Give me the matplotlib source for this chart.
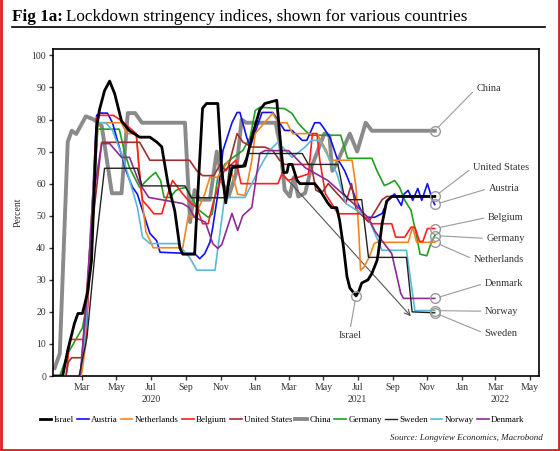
import matplotlib
matplotlib.use('Agg')
import matplotlib.pyplot as plt
import matplotlib.dates as mdates
from matplotlib.lines import Line2D
import pandas as pd

plt.rcParams['font.family'] = ['Liberation Serif', 'DejaVu Serif']

# stringency index, (date, value)
israel = [('2020-01-13', 0), ('2020-01-27', 0), ('2020-02-05', 8), ('2020-02-17', 16.5), ('2020-02-23', 19.5),
          ('2020-03-02', 19.5), ('2020-03-11', 26), ('2020-03-18', 36), ('2020-03-27', 77.5), ('2020-04-01', 83),
          ('2020-04-10', 89), ('2020-04-19', 92), ('2020-04-28', 88), ('2020-05-10', 79.5), ('2020-05-24', 76.5),
          ('2020-06-11', 74.5), ('2020-06-29', 74.5), ('2020-07-11', 73), ('2020-07-20', 71.5), ('2020-07-31', 60),
          ('2020-08-12', 51.5), ('2020-08-21', 40), ('2020-08-26', 38), ('2020-09-16', 38), ('2020-09-20', 51.5),
          ('2020-09-30', 83.5), ('2020-10-07', 85), ('2020-10-27', 85), ('2020-11-03', 64), ('2020-11-10', 54),
          ('2020-11-14', 59), ('2020-11-21', 65), ('2020-12-14', 65.5), ('2020-12-26', 74.5), ('2021-01-09', 83),
          ('2021-01-18', 85), ('2021-02-08', 86), ('2021-02-17', 68), ('2021-02-20', 63.5), ('2021-02-26', 63.5),
          ('2021-03-01', 66), ('2021-03-07', 66), ('2021-03-16', 61), ('2021-03-21', 60), ('2021-04-16', 60),
          ('2021-04-25', 58), ('2021-05-09', 54), ('2021-05-16', 52.5), ('2021-05-25', 52.5), ('2021-05-30', 48.5),
          ('2021-06-06', 40), ('2021-06-12', 31), ('2021-06-17', 27.5), ('2021-06-28', 25), ('2021-07-03', 26.5),
          ('2021-07-08', 29), ('2021-07-19', 30), ('2021-07-26', 32), ('2021-08-04', 36), ('2021-08-06', 38),
          ('2021-08-13', 47.5), ('2021-08-21', 54.5), ('2021-08-30', 56), ('2021-11-14', 56)]

austria = [('2020-01-13', 0), ('2020-02-27', 0), ('2020-03-10', 19), ('2020-03-17', 45), ('2020-03-27', 81.3),
           ('2020-04-01', 82), ('2020-04-15', 82), ('2020-04-24', 79), ('2020-05-06', 71.4), ('2020-05-18', 64),
           ('2020-05-29', 59), ('2020-06-07', 56.7), ('2020-06-16', 51.7), ('2020-06-29', 44.5), ('2020-07-11', 42.2),
           ('2020-07-17', 38.6), ('2020-08-26', 38.3), ('2020-09-16', 38.2), ('2020-09-25', 36.6), ('2020-10-04', 38.2),
           ('2020-10-13', 41.7), ('2020-10-18', 46.3), ('2020-10-27', 56.8), ('2020-11-05', 70.3), ('2020-11-21', 79),
           ('2020-11-30', 82.2), ('2020-12-05', 82.2), ('2020-12-17', 74.4), ('2020-12-23', 71.4), ('2021-01-04', 77.6),
           ('2021-01-13', 82.2), ('2021-02-01', 82.2), ('2021-02-22', 76.6), ('2021-03-07', 76.6), ('2021-03-25', 73.5),
           ('2021-04-02', 73.5), ('2021-04-16', 79), ('2021-04-25', 79), ('2021-05-01', 77.6), ('2021-05-13', 74.4),
           ('2021-05-25', 68.2), ('2021-06-08', 64), ('2021-06-20', 58.8), ('2021-07-01', 53.8), ('2021-07-13', 49.5),
           ('2021-07-31', 49.5), ('2021-08-13', 50.7), ('2021-08-23', 54.8), ('2021-09-04', 56.8), ('2021-09-16', 53.2),
           ('2021-09-21', 56.8), ('2021-09-28', 57.9), ('2021-10-06', 54.8), ('2021-10-15', 58.5), ('2021-10-22', 54.8),
           ('2021-11-01', 60), ('2021-11-10', 54.8), ('2021-11-14', 53.5)]

netherlands = [('2020-01-13', 0), ('2020-02-29', 0), ('2020-03-08', 10), ('2020-03-16', 45), ('2020-03-29', 77.6),
               ('2020-04-02', 79), ('2020-05-10', 79), ('2020-05-19', 75.6), ('2020-06-05', 75.6), ('2020-06-12', 60),
               ('2020-06-22', 45), ('2020-07-05', 40), ('2020-08-26', 40), ('2020-09-05', 50), ('2020-09-16', 49.5),
               ('2020-10-04', 56.8), ('2020-10-13', 62), ('2020-10-27', 62), ('2020-11-14', 67), ('2020-11-23', 62),
               ('2020-12-01', 56.7), ('2020-12-14', 56.3), ('2020-12-26', 67.3), ('2021-01-01', 75.6), ('2021-02-01', 82),
               ('2021-02-10', 79), ('2021-02-26', 79), ('2021-03-08', 75.6), ('2021-04-20', 75.6), ('2021-05-07', 70.3),
               ('2021-05-12', 67.3), ('2021-06-21', 67.3), ('2021-06-28', 58.8), ('2021-07-03', 44.4), ('2021-07-06', 33),
               ('2021-07-12', 34), ('2021-07-21', 37), ('2021-07-30', 41.3), ('2021-08-04', 41.7), ('2021-09-28', 41.7),
               ('2021-10-06', 46.4), ('2021-10-13', 41.7), ('2021-11-14', 41.7)]

belgium = [('2020-01-13', 0), ('2020-02-02', 0), ('2020-02-09', 11.4), ('2020-03-08', 11.4), ('2020-03-18', 45),
           ('2020-03-27', 80.6), ('2020-04-01', 81.3), ('2020-04-26', 81.3), ('2020-05-10', 79.6), ('2020-06-05', 75.6),
           ('2020-06-10', 65), ('2020-06-16', 54.8), ('2020-06-27', 52.6), ('2020-07-06', 50.6), ('2020-07-20', 50.6),
           ('2020-07-27', 54.8), ('2020-08-08', 61), ('2020-08-26', 56.8), ('2020-09-10', 53.8), ('2020-09-20', 52.6),
           ('2020-09-30', 47.5), ('2020-10-10', 47.5), ('2020-10-20', 55), ('2020-11-07', 64), ('2020-11-28', 67.3),
           ('2020-12-07', 60), ('2021-02-10', 60), ('2021-02-17', 63), ('2021-02-28', 61), ('2021-04-05', 63),
           ('2021-04-12', 75.6), ('2021-04-20', 75.6), ('2021-04-25', 67.3), ('2021-05-05', 56.8), ('2021-05-16', 53.8),
           ('2021-05-27', 50.6), ('2021-07-08', 50.6), ('2021-07-26', 47.5), ('2021-08-30', 47.5), ('2021-09-06', 43.3),
           ('2021-09-22', 43.3), ('2021-10-03', 46.4), ('2021-10-10', 46.4), ('2021-10-18', 42), ('2021-10-24', 42),
           ('2021-11-01', 46), ('2021-11-14', 46)]

united_states = [('2020-01-13', 0), ('2020-02-02', 0), ('2020-02-06', 4.3), ('2020-02-12', 5.7), ('2020-03-01', 5.7),
                 ('2020-03-15', 40), ('2020-04-05', 72.9), ('2020-06-11', 72.9), ('2020-06-29', 67.3), ('2020-09-07', 67.3),
                 ('2020-09-20', 64), ('2020-09-30', 62.5), ('2020-10-20', 62.5), ('2020-10-31', 66), ('2020-11-10', 64),
                 ('2020-11-14', 65), ('2020-11-30', 75.6), ('2020-12-10', 73), ('2020-12-26', 71.4), ('2021-01-18', 71.4),
                 ('2021-02-01', 70.3), ('2021-02-13', 67.3), ('2021-02-22', 66), ('2021-04-10', 66), ('2021-04-18', 58),
                 ('2021-04-28', 57), ('2021-05-10', 60), ('2021-05-20', 58), ('2021-06-10', 54), ('2021-06-20', 60),
                 ('2021-06-28', 52), ('2021-07-20', 48), ('2021-08-13', 55), ('2021-08-21', 56), ('2021-11-14', 56)]

china = [('2020-01-13', 2.5), ('2020-01-22', 7), ('2020-02-05', 73), ('2020-02-12', 76.5), ('2020-02-20', 75.5),
         ('2020-03-08', 81), ('2020-03-22', 80), ('2020-04-05', 78), ('2020-04-23', 57), ('2020-05-10', 57),
         ('2020-05-21', 82), ('2020-06-03', 82), ('2020-06-15', 79), ('2020-08-30', 79), ('2020-09-08', 48),
         ('2020-09-16', 58), ('2020-09-25', 55), ('2020-10-13', 55), ('2020-10-25', 70), ('2020-11-05', 60),
         ('2020-11-15', 56), ('2020-11-28', 63), ('2020-12-08', 80), ('2020-12-16', 79), ('2021-02-06', 79),
         ('2021-02-14', 72), ('2021-02-22', 58), ('2021-03-03', 56), ('2021-03-10', 62), ('2021-03-18', 56),
         ('2021-03-30', 57), ('2021-04-10', 65), ('2021-05-03', 75.6), ('2021-05-12', 75), ('2021-05-17', 64),
         ('2021-05-24', 66), ('2021-06-17', 75.6), ('2021-06-30', 70), ('2021-07-15', 79), ('2021-07-26', 76.5),
         ('2021-11-14', 76.5)]

germany = [('2020-01-13', 0), ('2020-01-22', 0), ('2020-02-05', 7), ('2020-03-02', 15), ('2020-03-11', 23.5),
           ('2020-03-18', 45), ('2020-03-29', 77), ('2020-05-06', 77), ('2020-05-15', 70), ('2020-05-24', 65),
           ('2020-06-11', 58.8), ('2020-06-29', 62), ('2020-07-09', 63.5), ('2020-07-18', 61), ('2020-07-24', 55.7),
           ('2020-08-04', 55.7), ('2020-08-14', 57.9), ('2020-08-23', 58.5), ('2020-09-01', 58.8), ('2020-09-11', 55.7),
           ('2020-09-22', 52), ('2020-10-10', 49.5), ('2020-10-17', 50.5), ('2020-10-27', 62), ('2020-11-08', 66),
           ('2020-11-23', 68.2), ('2020-12-10', 70.3), ('2020-12-23', 74.4), ('2021-01-01', 82.8), ('2021-01-09', 83.8),
           ('2021-02-22', 83.4), ('2021-03-07', 81.9), ('2021-03-18', 78.8), ('2021-03-30', 76.6), ('2021-04-08', 75.1),
           ('2021-06-01', 75.1), ('2021-06-13', 67.9), ('2021-07-26', 67.9), ('2021-08-04', 64), ('2021-08-17', 59.4),
           ('2021-08-25', 60), ('2021-09-04', 61), ('2021-09-13', 58.8), ('2021-09-22', 54.8), ('2021-10-03', 51.7),
           ('2021-10-12', 44.4), ('2021-10-19', 38), ('2021-10-31', 37.5), ('2021-11-07', 41.3), ('2021-11-14', 43.8)]

sweden = [('2020-01-13', 0), ('2020-02-25', 0), ('2020-03-10', 12), ('2020-03-25', 40), ('2020-04-10', 64.8),
          ('2020-06-07', 64.8), ('2020-06-15', 59.3), ('2020-08-30', 59.3), ('2020-09-10', 55.6), ('2020-11-10', 55.6),
          ('2020-11-17', 65.7), ('2020-12-10', 65.7), ('2020-12-20', 69.4), ('2021-03-25', 69.4), ('2021-04-05', 66),
          ('2021-05-27', 66), ('2021-06-06', 57), ('2021-06-15', 55), ('2021-07-08', 55), ('2021-07-20', 37),
          ('2021-09-25', 37), ('2021-10-05', 20), ('2021-11-14', 19.7)]

norway = [('2020-01-13', 0), ('2020-02-27', 0), ('2020-03-08', 15), ('2020-03-17', 45), ('2020-03-29', 79),
          ('2020-04-12', 79), ('2020-04-24', 76.6), ('2020-05-14', 67.3), ('2020-06-07', 52.6), ('2020-06-16', 43.3),
          ('2020-06-29', 41.3), ('2020-08-17', 41.3), ('2020-09-07', 37), ('2020-09-20', 33), ('2020-10-22', 33),
          ('2020-11-08', 55.7), ('2020-12-14', 55.7), ('2021-01-09', 65), ('2021-01-26', 70.3), ('2021-02-10', 72.9),
          ('2021-03-07', 68.2), ('2021-03-30', 71.4), ('2021-04-10', 73.5), ('2021-04-25', 73.5), ('2021-05-25', 63.2),
          ('2021-06-10', 53.8), ('2021-07-19', 49.5), ('2021-08-13', 39.2), ('2021-09-25', 39.2), ('2021-10-10', 20.4),
          ('2021-11-14', 20.4)]

denmark = [('2020-01-13', 0), ('2020-02-27', 0), ('2020-03-10', 25), ('2020-03-20', 55), ('2020-04-05', 72.5),
           ('2020-04-19', 72.5), ('2020-05-10', 68.2), ('2020-05-24', 68.2), ('2020-06-11', 60), ('2020-06-27', 55.7),
           ('2020-08-26', 53.8), ('2020-09-06', 52.6), ('2020-09-16', 49.5), ('2020-10-05', 48), ('2020-10-18', 41.3),
           ('2020-10-27', 39.8), ('2020-11-03', 41), ('2020-11-21', 50.7), ('2020-12-01', 45.4), ('2020-12-10', 50),
           ('2020-12-26', 52.6), ('2021-01-09', 69.4), ('2021-01-18', 70.3), ('2021-03-01', 70.3), ('2021-03-30', 65),
           ('2021-05-09', 61), ('2021-07-01', 52.6), ('2021-07-19', 49.5), ('2021-08-01', 45), ('2021-08-30', 38.2),
           ('2021-09-15', 25.7), ('2021-09-20', 24.2), ('2021-11-14', 24.2)]

# name, data, colour, linewidth, zorder  (legend order)
series = [('Israel', israel, 'black', 2.0, 6),
          ('Austria', austria, '#1010f0', 1.2, 4),
          ('Netherlands', netherlands, '#f28522', 1.2, 4),
          ('Belgium', belgium, '#ff2020', 1.2, 4),
          ('United States', united_states, '#a0302c', 1.2, 4),
          ('China', china, '#8a8a8a', 2.8, 2),
          ('Germany', germany, '#22a022', 1.2, 3),
          ('Sweden', sweden, '#222222', 1.0, 5),
          ('Norway', norway, '#5ab8d8', 1.2, 4),
          ('Denmark', denmark, '#8e2a96', 1.2, 4)]

# label text positions for the end-point call-outs
callouts = {'China': ('2022-02-17', 89.7), 'United States': ('2022-03-11', 65.1),
            'Austria': ('2022-03-16', 58.5), 'Belgium': ('2022-03-19', 49.5),
            'Germany': ('2022-03-19', 42.9), 'Netherlands': ('2022-03-07', 36.4),
            'Denmark': ('2022-03-16', 28.9), 'Norway': ('2022-03-12', 20.2),
            'Sweden': ('2022-03-11', 13.3)}

fig = plt.figure(figsize=(5.6, 4.51), dpi=100)
ax = fig.add_axes([53/560, 1-376/451, (539-53)/560, (376-49)/451])

handles = []
for name, data, col, lw, z in series:
    d = pd.to_datetime([p[0] for p in data])
    v = [p[1] for p in data]
    ln, = ax.plot(d, v, color=col, lw=lw, zorder=z, label=name, solid_joinstyle='round')
    handles.append(ln)
    if name in callouts:
        tx, ty = callouts[name]
        ax.plot(d[-1], v[-1], 'o', ms=7, mfc='none', mec='#9a9a9a', mew=1.0, zorder=7)
        ax.annotate(name, xy=(d[-1], v[-1]), xytext=(pd.Timestamp(tx), ty), ha='center', va='center',
                    fontsize=7.5, color='#333333', annotation_clip=False,
                    arrowprops=dict(arrowstyle='-', color='#9a9a9a', lw=0.8, shrinkA=1, shrinkB=3.5,
                                    relpos=(0, 0.5)))

# Israel call-out at its summer 2021 low
late = [p for p in israel if p[0] >= '2021-03-01']
ilow = min(late, key=lambda p: p[1])
idate = pd.Timestamp(ilow[0])
ax.plot(idate, ilow[1], 'o', ms=7, mfc='none', mec='#9a9a9a', mew=1.0, zorder=7)
ax.annotate('Israel', xy=(idate, ilow[1]), xytext=(pd.Timestamp('2021-06-17'), 12.7), ha='center', va='center',
            fontsize=7.5, color='#333333',
            arrowprops=dict(arrowstyle='-', color='#9a9a9a', lw=0.8, shrinkA=1, shrinkB=3.5, relpos=(0.5, 1)))

# trend arrow
ax.annotate('', xy=(pd.Timestamp('2021-10-06'), 18), xytext=(pd.Timestamp('2021-02-13'), 64),
            arrowprops=dict(arrowstyle='->', color='#555555', lw=0.8), zorder=3)

ax.set_xlim(pd.Timestamp('2020-01-10'), pd.Timestamp('2022-05-17'))
ax.set_ylim(0, 102)
ax.set_yticks(range(0, 101, 10))
ax.xaxis.set_major_locator(mdates.MonthLocator(bymonth=[1, 3, 5, 7, 9, 11]))
ax.xaxis.set_major_formatter(mdates.DateFormatter('%b'))
ax.tick_params(labelsize=7, length=3, width=1, pad=2, colors='#333333')
for s in ax.spines.values():
    s.set_linewidth(1.2)
ax.set_ylabel('Percent', fontsize=7, color='#333333', labelpad=6)

for yr, pos in [('2020', '2020-07-01'), ('2021', '2021-07-01'), ('2022', '2022-03-10')]:
    ax.text(pd.Timestamp(pos), -0.073, yr, transform=ax.get_xaxis_transform(), ha='center', va='center',
            fontsize=7, color='#333333')

fig.legend(handles=handles, loc='center', bbox_to_anchor=(282/560, 1-419.6/451), ncol=10, frameon=False,
           fontsize=6.5, handlelength=1.3, handletextpad=0.25, columnspacing=0.35, borderpad=0)

# title with bold prefix
r = fig.canvas.get_renderer()
t1 = fig.text(12/560, 1-17/451, 'Fig 1a:', fontsize=12.3, fontweight='bold', va='center', ha='left')
w = t1.get_window_extent(renderer=r).width
fig.text((12 + w + 3)/560, 1-17/451, 'Lockdown stringency indices, shown for various countries',
         fontsize=12.3, va='center', ha='left')
fig.add_artist(Line2D([12/560, 545/560], [1-27/451, 1-27/451], color='black', lw=1.2, transform=fig.transFigure))

fig.text(543/560, 1-437.5/451, 'Source: Longview Economics, Macrobond', ha='right', va='center',
         style='italic', fontsize=6.5, color='#222222')

# red frame
for xs, ys in [([1/560, 1/560], [0, 1]), ([558.5/560, 558.5/560], [0, 1]), ([0, 1], [1.5/451, 1.5/451])]:
    fig.add_artist(Line2D(xs, ys, color='#e02020', lw=2, transform=fig.transFigure))

fig.savefig('out.png', dpi=100)
